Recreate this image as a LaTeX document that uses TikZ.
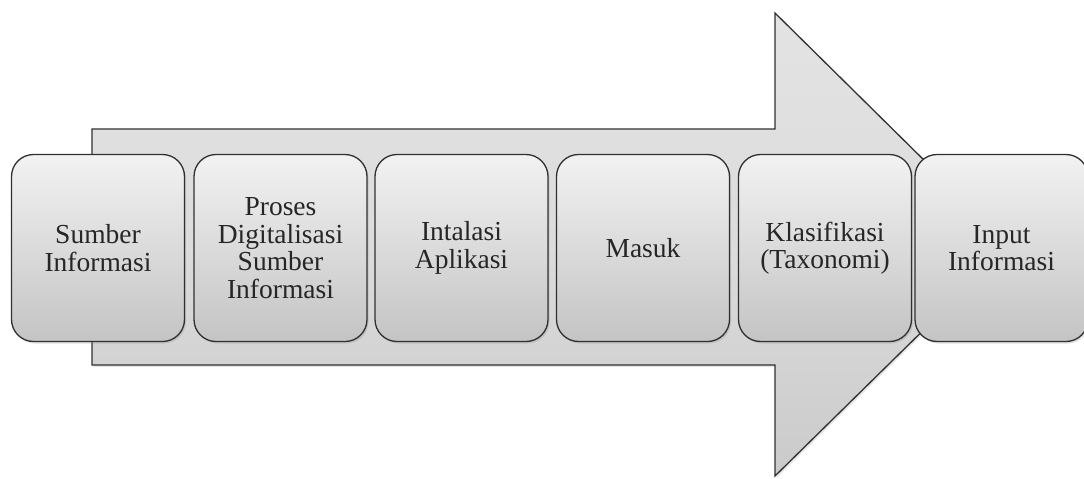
\documentclass[tikz,border=0pt]{standalone}
\usepackage{fontspec}
\setmainfont{Liberation Serif}
\usetikzlibrary{shadows}
\definecolor{edge}{HTML}{303030}
\definecolor{arrowfill}{HTML}{DCDCDC}
\definecolor{boxtop}{HTML}{F2F2F2}
\definecolor{boxbot}{HTML}{C4C4C4}
\definecolor{txt}{HTML}{262626}
\tikzset{
  stepbox/.style={draw=edge, line width=1.3pt, rounded corners=22pt,
    minimum width=173pt, minimum height=187pt, align=center,
    top color=boxtop, bottom color=boxbot, text=txt,
    font=\fontsize{27.5}{27.5}\selectfont,
    drop shadow={shadow xshift=1.5pt, shadow yshift=-2pt, opacity=0.25}},
  bigarrow/.style={draw=edge, line width=1.3pt, top color=arrowfill!80!white, bottom color=arrowfill!92!black, middle color=arrowfill}
}
\begin{document}
\begin{tikzpicture}[x=1pt,y=-1pt]
\useasboundingbox (0,0) rectangle (1084,479);
\draw[bigarrow, drop shadow={shadow xshift=1.5pt, shadow yshift=-2pt, opacity=0.2}]
  (92,129) -- (775,129) -- (775,13) -- (1010,245) -- (775,476) -- (775,365) -- (92,365) -- cycle;
\node[stepbox] (s1) at (98,248) {Sumber\\Informasi};
\node[stepbox] (s2) at (280.5,248) {Proses\\Digitalisasi\\Sumber\\Informasi};
\node[stepbox] (s3) at (461.5,248) {Intalasi\\Aplikasi};
\node[stepbox] (s4) at (643,248) {Masuk};
\node[stepbox] (s5) at (825,248) {Klasifikasi\\(Taxonomi)};
\node[stepbox] (s6) at (1001.5,248) {Input\\Informasi};
\end{tikzpicture}
\end{document}
